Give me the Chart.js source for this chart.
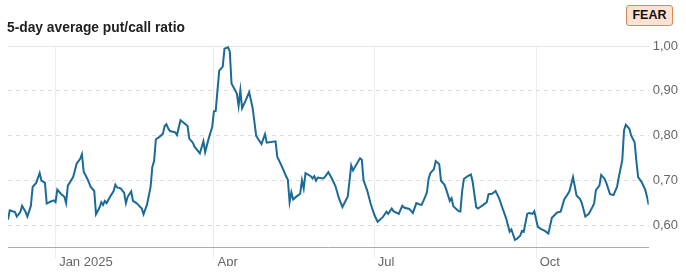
<!DOCTYPE html>
<html>
<head>
<meta charset="utf-8">
<script src="https://cdn.jsdelivr.net/npm/chart.js@4.4.1/dist/chart.umd.min.js"></script>
<style>
  html, body { margin: 0; padding: 0; background: #fff; }
  #wrap { position: relative; width: 686px; height: 273px; overflow: hidden; }
  #chart { position: absolute; left: 0; top: 0; }
  #title { position: absolute; left: 7px; top: 20px;
           font: bold 13.8px "Liberation Sans", Arial, sans-serif; line-height: 15px; color: #222; }
  #badge { position: absolute; left: 626px; top: 5px; width: 47px; height: 21px;
           box-sizing: border-box; border: 1px solid #d98a55; border-radius: 3px;
           background: #fde2d2; color: #111; text-align: center;
           font: bold 12.5px "Liberation Sans", Arial, sans-serif; line-height: 19px; }
</style>
</head>
<body>
<div id="wrap">
  <canvas id="chart" width="686" height="273"></canvas>
  <div id="title">5-day average put/call ratio</div>
  <div id="badge">FEAR</div>
</div>
<script>
// values
const dates = [
  '2024-12-05','2024-12-06','2024-12-09','2024-12-10','2024-12-12','2024-12-13','2024-12-15','2024-12-16',
  '2024-12-18','2024-12-19','2024-12-21','2024-12-23','2024-12-24','2024-12-26','2024-12-27','2024-12-29',
  '2024-12-31','2025-01-01','2025-01-02','2025-01-04','2025-01-06','2025-01-07','2025-01-08','2025-01-11',
  '2025-01-13','2025-01-15','2025-01-16','2025-01-17','2025-01-19','2025-01-21','2025-01-23','2025-01-24',
  '2025-01-26','2025-01-27','2025-01-28','2025-01-29','2025-01-30','2025-02-01','2025-02-03','2025-02-04',
  '2025-02-05','2025-02-07','2025-02-09','2025-02-10','2025-02-11','2025-02-13','2025-02-14','2025-02-16',
  '2025-02-17','2025-02-19','2025-02-20','2025-02-22','2025-02-24','2025-02-25','2025-02-26','2025-02-27',
  '2025-03-01','2025-03-03','2025-03-04','2025-03-05','2025-03-06','2025-03-07','2025-03-10','2025-03-11',
  '2025-03-13','2025-03-15','2025-03-17','2025-03-18','2025-03-20','2025-03-21','2025-03-24','2025-03-26',
  '2025-03-27','2025-03-29','2025-03-31','2025-04-01','2025-04-02','2025-04-04','2025-04-06','2025-04-07',
  '2025-04-09','2025-04-10','2025-04-11','2025-04-14','2025-04-15','2025-04-16','2025-04-17','2025-04-19',
  '2025-04-21','2025-04-23','2025-04-25','2025-04-28','2025-04-30','2025-05-01','2025-05-06','2025-05-07',
  '2025-05-09','2025-05-12','2025-05-13','2025-05-14','2025-05-15','2025-05-16','2025-05-18','2025-05-20',
  '2025-05-21','2025-05-22','2025-05-23','2025-05-26','2025-05-27','2025-05-28','2025-05-29','2025-05-30',
  '2025-06-02','2025-06-03','2025-06-05','2025-06-07','2025-06-09','2025-06-11','2025-06-13','2025-06-14',
  '2025-06-16','2025-06-18','2025-06-19','2025-06-21','2025-06-23','2025-06-24','2025-06-25','2025-06-27',
  '2025-06-29','2025-07-01','2025-07-03','2025-07-06','2025-07-08','2025-07-09','2025-07-11','2025-07-12',
  '2025-07-15','2025-07-17','2025-07-18','2025-07-21','2025-07-23','2025-07-25','2025-07-27','2025-07-28',
  '2025-07-30','2025-07-31','2025-08-01','2025-08-02','2025-08-04','2025-08-05','2025-08-07','2025-08-08',
  '2025-08-10','2025-08-11','2025-08-13','2025-08-14','2025-08-15','2025-08-18','2025-08-19','2025-08-20',
  '2025-08-21','2025-08-23','2025-08-25','2025-08-26','2025-08-28','2025-08-29','2025-09-01','2025-09-03',
  '2025-09-04','2025-09-06','2025-09-08','2025-09-10','2025-09-12','2025-09-14','2025-09-16','2025-09-17',
  '2025-09-19','2025-09-20','2025-09-22','2025-09-23','2025-09-24','2025-09-26','2025-09-27','2025-09-29',
  '2025-09-30','2025-10-02','2025-10-04','2025-10-06','2025-10-08','2025-10-10','2025-10-12','2025-10-13',
  '2025-10-15','2025-10-17','2025-10-19','2025-10-20','2025-10-22','2025-10-24','2025-10-26','2025-10-27',
  '2025-10-29','2025-10-31','2025-11-02','2025-11-03','2025-11-04','2025-11-06','2025-11-07','2025-11-09',
  '2025-11-10','2025-11-12','2025-11-14','2025-11-16','2025-11-17','2025-11-19','2025-11-20','2025-11-21',
  '2025-11-23','2025-11-24','2025-11-26','2025-11-27','2025-11-28','2025-11-30','2025-12-02','2025-12-03',
  '2025-12-04'
];
const ratios = [
  0.612,0.633,0.629,0.619,0.629,0.643,0.629,0.619,
  0.643,0.685,0.694,0.716,0.699,0.694,0.648,0.652,
  0.655,0.651,0.679,0.670,0.663,0.649,0.688,0.707,
  0.737,0.748,0.758,0.719,0.704,0.685,0.676,0.624,
  0.639,0.651,0.645,0.654,0.649,0.663,0.676,0.690,
  0.684,0.682,0.672,0.649,0.663,0.675,0.654,0.649,
  0.645,0.637,0.624,0.646,0.685,0.730,0.743,0.791,
  0.797,0.804,0.821,0.825,0.816,0.810,0.807,0.801,
  0.834,0.828,0.821,0.793,0.784,0.775,0.760,0.787,
  0.763,0.793,0.819,0.854,0.855,0.945,0.954,0.994,
  0.997,0.988,0.916,0.894,0.866,0.901,0.861,0.878,
  0.897,0.861,0.799,0.781,0.803,0.784,0.787,0.752,
  0.736,0.709,0.701,0.651,0.673,0.657,0.664,0.670,
  0.700,0.682,0.716,0.709,0.704,0.709,0.699,0.706,
  0.704,0.707,0.718,0.704,0.687,0.660,0.640,0.648,
  0.663,0.733,0.722,0.736,0.749,0.746,0.700,0.678,
  0.648,0.624,0.607,0.618,0.630,0.625,0.637,0.631,
  0.625,0.643,0.639,0.636,0.627,0.649,0.646,0.645,
  0.663,0.673,0.704,0.716,0.725,0.743,0.736,0.699,
  0.690,0.679,0.654,0.660,0.642,0.631,0.630,0.675,
  0.703,0.709,0.713,0.696,0.640,0.637,0.645,0.651,
  0.669,0.670,0.676,0.660,0.637,0.615,0.585,0.590,
  0.567,0.569,0.576,0.587,0.585,0.625,0.627,0.625,
  0.631,0.596,0.591,0.587,0.581,0.616,0.624,0.628,
  0.630,0.657,0.669,0.676,0.707,0.666,0.658,0.649,
  0.619,0.625,0.640,0.648,0.678,0.688,0.712,0.703,
  0.693,0.669,0.667,0.685,0.707,0.745,0.812,0.824,
  0.815,0.800,0.785,0.743,0.707,0.696,0.679,0.664,
  0.645
];
const tickDates = ['2025-01-01', '2025-04-01', '2025-07-01', '2025-10-01'];
const tickLabels = ['Jan 2025', 'Apr', 'Jul', 'Oct'];
const yTicks = [0.60, 0.70, 0.80, 0.90, 1.00];

function toMs(s) {
  const p = s.split('-').map(Number);
  return Date.UTC(p[0], p[1] - 1, p[2]);
}

const points = dates.map((d, i) => ({ x: toMs(d), y: ratios[i] }));

// the 1,00 line is solid in the reference, the others dashed
const topLine = {
  id: 'topLine',
  beforeDatasetsDraw(chart) {
    const { ctx, chartArea } = chart;
    const y = Math.round(chart.scales.y.getPixelForValue(1.0)) + 0.5;
    ctx.save();
    ctx.strokeStyle = '#e4e4e4';
    ctx.lineWidth = 1;
    ctx.beginPath();
    ctx.moveTo(chartArea.left, y);
    ctx.lineTo(chartArea.right, y);
    ctx.stroke();
    ctx.restore();
  }
};

const tickFont = { family: '"Liberation Sans", Arial, sans-serif', size: 13 };

new Chart(document.getElementById('chart'), {
  type: 'line',
  data: {
    datasets: [{
      data: points,
      borderColor: '#1b6a97',
      borderWidth: 2,
      pointRadius: 0,
      tension: 0,
      fill: false
    }]
  },
  options: {
    responsive: false,
    animation: false,
    devicePixelRatio: 1,
    layout: { padding: { top: 46, left: 8, right: 4, bottom: 7 } },
    plugins: { legend: { display: false }, tooltip: { enabled: false } },
    scales: {
      x: {
        type: 'linear',
        min: toMs(dates[0]),
        max: toMs(dates[dates.length - 1]),
        afterBuildTicks: (scale) => {
          scale.ticks = tickDates.map(d => ({ value: toMs(d) }));
        },
        grid: { color: '#ececec', tickColor: '#ececec', tickLength: 11 },
        border: { color: '#aaaaaa', width: 1 },
        ticks: {
          autoSkip: false,
          maxRotation: 0,
          align: 'start',
          padding: -4,
          color: '#666',
          font: tickFont,
          callback: (v, i) => ' ' + tickLabels[i]
        }
      },
      y: {
        position: 'right',
        min: 0.55,
        max: 1.0,
        afterBuildTicks: (scale) => {
          scale.ticks = yTicks.map(v => ({ value: v }));
        },
        grid: { color: '#dddddd', drawTicks: false },
        border: { display: false, dash: [4, 4] },
        ticks: {
          padding: 4,
          color: '#666',
          font: tickFont,
          callback: (v) => v.toFixed(2).replace('.', ',')
        }
      }
    }
  },
  plugins: [topLine]
});
</script>
</body>
</html>
